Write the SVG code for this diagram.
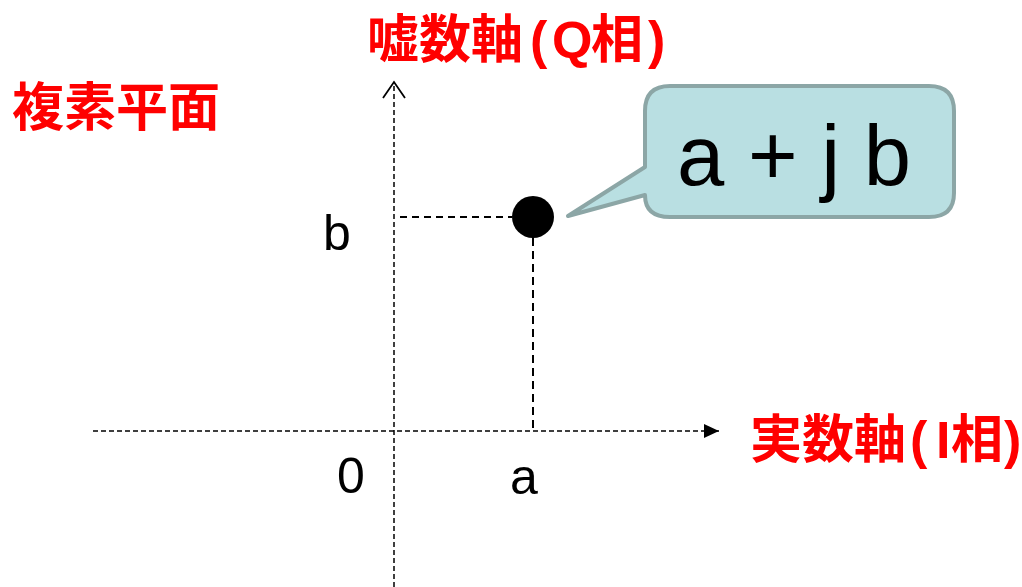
<svg xmlns="http://www.w3.org/2000/svg" width="1022" height="587" viewBox="0 0 1022 587">
  <style>
    .red { font-family: "Liberation Sans", "Noto Sans CJK JP", sans-serif; font-weight: bold; fill: #ff0000; font-size: 52px; }
    .lbl { font-family: "Liberation Sans", Arial, sans-serif; fill: #000000; font-size: 50px; }
    .axis { stroke: #000000; stroke-width: 1.5; stroke-dasharray: 5 3; fill: none; }
    .guide { stroke: #000000; stroke-width: 2; stroke-dasharray: 7 5; fill: none; }
  </style>
  <defs>
    <marker id="tri" markerWidth="16" markerHeight="14" refX="15" refY="7" orient="auto" markerUnits="userSpaceOnUse">
      <path d="M0,0 L15,7 L0,14 Z" fill="#000000"/>
    </marker>
  </defs>
  <rect x="0" y="0" width="1022" height="587" fill="#ffffff"/>

  <g id="connectors">
    <line class="axis" x1="93" y1="431" x2="719" y2="431" marker-end="url(#tri)"/>
    <line class="axis" x1="394" y1="587" x2="394" y2="84"/>
    <path d="M383,98 L394,82 L405,98" fill="none" stroke="#000000" stroke-width="1.8"/>
    <line class="guide" x1="400" y1="217" x2="512" y2="217"/>
    <line class="guide" x1="533" y1="238" x2="533" y2="431" stroke-width="2.5" style="stroke-dasharray:8 5"/>
  </g>

  <g id="point">
    <circle cx="533" cy="217" r="21" fill="#000000"/>
  </g>

  <g id="callout">
    <path d="M670,86 H929 Q954,86 954,111 V193 Q954,217 929,217 H670 Q645,217 645,195 L568,216 L645,167 V111 Q645,86 670,86 Z" fill="#b9dfe2" stroke="#8ca6a6" stroke-width="4" stroke-linejoin="round"/>
    <text x="677" y="185" font-family="Liberation Sans, Arial, sans-serif" font-size="85" fill="#000000">a + j b</text>
  </g>

  <g id="labels">
    <text class="red" x="12" y="126">複素平面</text>
    <text class="red" y="58"><tspan x="367">嘘数軸</tspan><tspan x="530">(</tspan><tspan x="552">Q</tspan><tspan x="591">相</tspan><tspan x="648">)</tspan></text>
    <text class="red" y="458"><tspan x="750">実数軸</tspan><tspan x="910">(</tspan><tspan x="936">I</tspan><tspan x="951">相</tspan><tspan x="1004">)</tspan></text>
    <text class="lbl" x="323" y="250">b</text>
    <text class="lbl" x="337" y="493">0</text>
    <text class="lbl" x="510" y="494">a</text>
  </g>
</svg>
